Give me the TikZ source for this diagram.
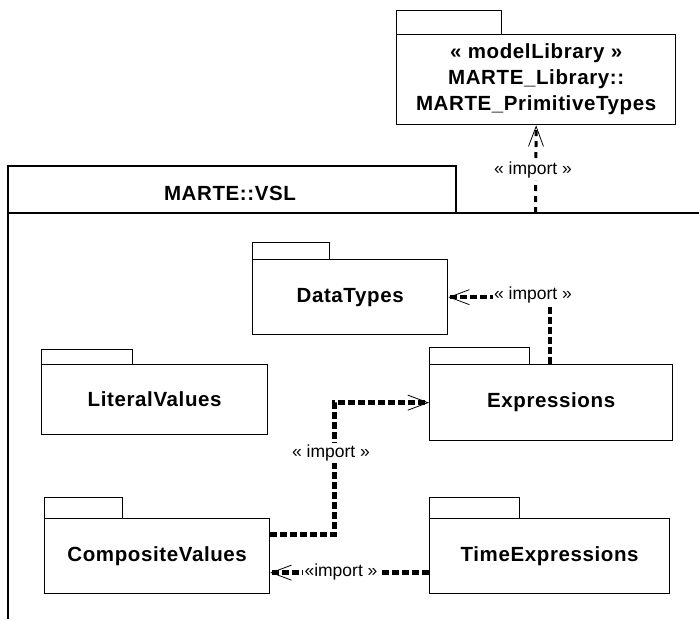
\documentclass[tikz,border=0pt]{standalone}
\usepackage{fontspec}
\setmainfont{Liberation Sans}
\newfontfamily\pkgfont[LetterSpace=3]{Liberation Sans}
\usetikzlibrary{arrows.meta}
\begin{document}
\begin{tikzpicture}[x=1pt,y=-1pt,
  pkgbody/.style={draw, line width=1.3pt, anchor=north west, inner sep=0pt,
    font=\pkgfont\bfseries\fontsize{20.5}{24}\selectfont},
  pkgtab/.style={draw, line width=1pt},
  imp/.style={line width=4.5pt, dash pattern=on 7pt off 3pt,
    -{Straight Barb[length=20pt,width=15pt,line width=0.8pt]}},
  imptop/.style={line width=3pt, dash pattern=on 6pt off 5pt,
    -{Straight Barb[length=20pt,width=15pt,line width=0.8pt]}},
  implabel/.style={fill=white, inner sep=1.5pt, font=\fontsize{17.5}{20}\selectfont}]
\useasboundingbox (0,0) rectangle (699,619);

% model library
\draw[pkgtab] (396,10) rectangle (501,34);
\node[pkgbody, minimum width=279pt, minimum height=90pt, align=center,
  font=\pkgfont\bfseries\fontsize{20.5}{26}\selectfont] (lib) at (396,34)
  {« modelLibrary »\\MARTE\_Library::\\MARTE\_PrimitiveTypes};

% frame MARTE::VSL
\draw[line width=1.3pt] (8,619) -- (8,166) -- (456,166) -- (456,213);
\draw[line width=1.3pt] (8,213) -- (699,213);
\node[font=\pkgfont\bfseries\fontsize{20.5}{24}\selectfont] (vsl) at (230,193) {MARTE::VSL};

% packages
\draw[pkgtab] (252,242) rectangle (329,259);
\node[pkgbody, minimum width=195pt, minimum height=75pt] (dt) at (252,259) {DataTypes};

\draw[pkgtab] (41,349) rectangle (132,364);
\node[pkgbody, minimum width=226pt, minimum height=70pt] (lit) at (41,364) {LiteralValues};

\draw[pkgtab] (429,347) rectangle (529,364);
\node[pkgbody, minimum width=243pt, minimum height=76pt] (exp) at (429,364) {Expressions};

\draw[pkgtab] (44,497) rectangle (122,518);
\node[pkgbody, minimum width=225pt, minimum height=75pt] (comp) at (44,518) {CompositeValues};

\draw[pkgtab] (429,497) rectangle (519,518);
\node[pkgbody, minimum width=240pt, minimum height=75pt] (time) at (429,518) {TimeExpressions};

% connectors
\coordinate (vslimp) at (535.5,213);
\draw[imptop] (vslimp) -- (lib.south);
\node[implabel] (l1) at (533,170) {« import »};

\draw[imp] ([xshift=121pt]exp.north west) |- (dt.east);
\node[implabel] (l2) at (533,295) {« import »};

\draw[imp] ([yshift=21.5pt]comp.east) -- ++(64,0) |- (exp.west);
\node[implabel] (l3) at (331,453) {« import »};

\draw[imp] ([yshift=-16.5pt]time.west) -- ([yshift=-16.5pt]comp.east);
\node[implabel] (l4) at (341,572) {«import »};
\end{tikzpicture}
\end{document}
